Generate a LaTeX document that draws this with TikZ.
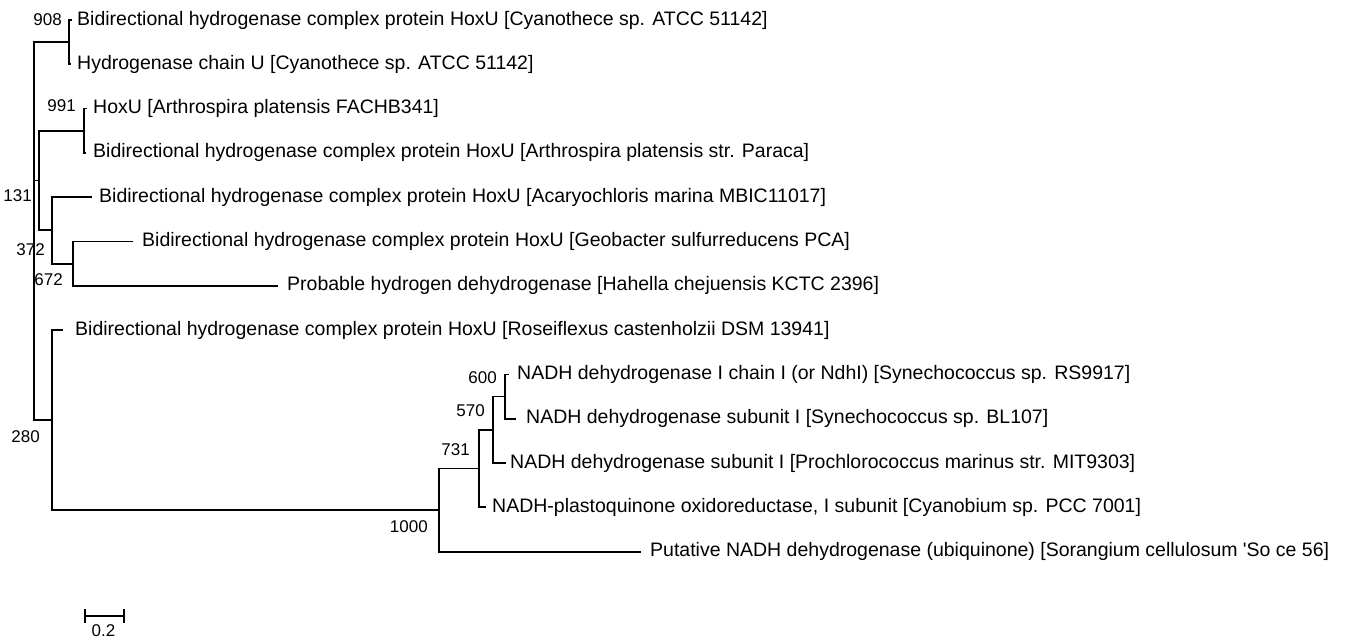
\documentclass[tikz,border=0pt]{standalone}
\usepackage{fontspec}
\setmainfont{Liberation Sans}
\usetikzlibrary{calc}
\begin{document}
\begin{tikzpicture}[x=1pt,y=-1pt,
  br/.style={line width=1.8pt, line cap=rect},
  lab/.style={anchor=west, inner sep=0pt, font=\fontsize{19.5}{22}\selectfont},
  bs/.style={anchor=east, inner sep=0pt, font=\fontsize{17}{20}\selectfont}]
\useasboundingbox (0,0) rectangle (1349,644);
% internal nodes
\coordinate (root)  at (34,180.6);
\coordinate (n908)  at (69,42.15);
\coordinate (nA)    at (39,180.6);
\coordinate (n991)  at (84,130.75);
\coordinate (nB)    at (52,230.4);
\coordinate (nC)    at (73,263.65);
\coordinate (n280)  at (52,420.1);
\coordinate (n1000) at (439,510.1);
\coordinate (n731)  at (479,468.55);
\coordinate (n570)  at (493,429.8);
\coordinate (n600)  at (505,396.55);
% tips
\coordinate (t1)  at (71,20);
\coordinate (t2)  at (70,64.3);
\coordinate (t3)  at (86,108.6);
\coordinate (t4)  at (85,152.9);
\coordinate (t5)  at (91,197.2);
\coordinate (t6)  at (132,241.5);
\coordinate (t7)  at (277,285.8);
\coordinate (t8)  at (62,330.1);
\coordinate (t9)  at (508,374.4);
\coordinate (t10) at (515,418.7);
\coordinate (t11) at (505,463);
\coordinate (t12) at (485,507.3);
\coordinate (t13) at (640,551.6);
% branches
\draw[br] (root) |- (n908);
\draw[br] (root) |- (nA);
\draw[br] (root) |- (n280);
\draw[br] (n908) |- (t1);
\draw[br] (n908) |- (t2);
\draw[br] (nA) |- (n991);
\draw[br] (nA) |- (nB);
\draw[br] (n991) |- (t3);
\draw[br] (n991) |- (t4);
\draw[br] (nB) |- (t5);
\draw[br] (nB) |- (nC);
\draw[br] (nC) |- (t6);
\draw[br] (nC) |- (t7);
\draw[br] (n280) |- (t8);
\draw[br] (n280) |- (n1000);
\draw[br] (n1000) |- (n731);
\draw[br] (n1000) |- (t13);
\draw[br] (n731) |- (n570);
\draw[br] (n731) |- (t12);
\draw[br] (n570) |- (n600);
\draw[br] (n570) |- (t11);
\draw[br] (n600) |- (t9);
\draw[br] (n600) |- (t10);
% tip labels
\node[lab] (L1)  at (77,20)    {Bidirectional hydrogenase complex protein HoxU [Cyanothece sp. ATCC 51142]};
\node[lab] (L2)  at (77,64.3)  {Hydrogenase chain U [Cyanothece sp. ATCC 51142]};
\node[lab] (L3)  at (93,108.6) {HoxU [Arthrospira platensis FACHB341]};
\node[lab] (L4)  at (93,152.9) {Bidirectional hydrogenase complex protein HoxU [Arthrospira platensis str. Paraca]};
\node[lab] (L5)  at (99,197.2) {Bidirectional hydrogenase complex protein HoxU [Acaryochloris marina MBIC11017]};
\node[lab] (L6)  at (142,241.5) {Bidirectional hydrogenase complex protein HoxU [Geobacter sulfurreducens PCA]};
\node[lab] (L7)  at (287,285.8) {Probable hydrogen dehydrogenase [Hahella chejuensis KCTC 2396]};
\node[lab] (L8)  at (75,330.1) {Bidirectional hydrogenase complex protein HoxU [Roseiflexus castenholzii DSM 13941]};
\node[lab] (L9)  at (517,374.4) {NADH dehydrogenase I chain I (or NdhI) [Synechococcus sp. RS9917]};
\node[lab] (L10) at (526,418.7) {NADH dehydrogenase subunit I [Synechococcus sp. BL107]};
\node[lab] (L11) at (510,463)   {NADH dehydrogenase subunit I [Prochlorococcus marinus str. MIT9303]};
\node[lab] (L12) at (492,507.3) {NADH-plastoquinone oxidoreductase, I subunit [Cyanobium sp. PCC 7001]};
\node[lab] (L13) at (650,551.6) {Putative NADH dehydrogenase (ubiquinone) [Sorangium cellulosum \textquotesingle So ce 56]};
% bootstrap values
\node[bs] (b908)  at (62,20)   {908};
\node[bs] (b991)  at (76,106)  {991};
\node[bs] (b131)  at (32,196)  {131};
\node[bs] (b372)  at (45,250)  {372};
\node[bs] (b672)  at (63,280)  {672};
\node[bs] (b280)  at (40,437)  {280};
\node[bs] (b1000) at (428,527) {1000};
\node[bs] (b731)  at (470,450) {731};
\node[bs] (b570)  at (485,411) {570};
\node[bs] (b600)  at (497,378) {600};
% scale bar
\coordinate (sbL) at (85,616);
\coordinate (sbR) at (124,616);
\draw[line width=1.6pt] (sbL) -- (sbR);
\draw[line width=1.6pt] ([yshift=-7pt]sbL) -- ([yshift=7pt]sbL);
\draw[line width=1.6pt] ([yshift=-7pt]sbR) -- ([yshift=7pt]sbR);
\node[inner sep=0pt, font=\fontsize{17}{20}\selectfont] (sbl) at ($(sbL)!0.5!(sbR)+(-1,15)$) {0.2};
\end{tikzpicture}
\end{document}
